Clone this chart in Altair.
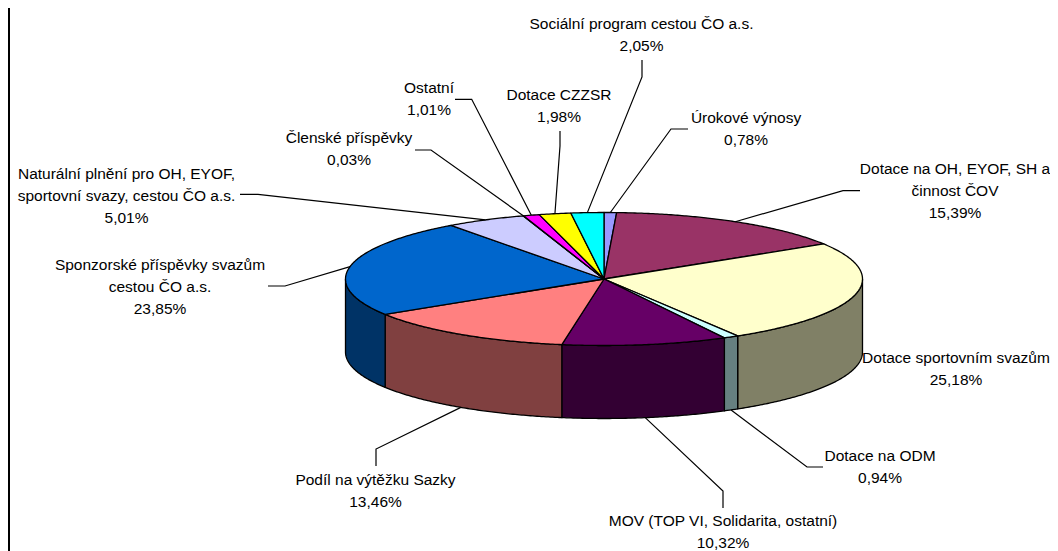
import numpy as np
import pandas as pd
import altair as alt

# --- chart values (clockwise from the top of the pie) ---
names = [
    ["Úrokové výnosy"],
    ["Dotace na OH, EYOF, SH a", "činnost ČOV"],
    ["Dotace sportovním svazům"],
    ["Dotace na ODM"],
    ["MOV (TOP VI, Solidarita, ostatní)"],
    ["Podíl na výtěžku Sazky"],
    ["Sponzorské příspěvky svazům", "cestou ČO a.s."],
    ["Naturální plnění pro OH, EYOF,", "sportovní svazy, cestou ČO a.s."],
    ["Členské příspěvky"],
    ["Ostatní"],
    ["Dotace CZZSR"],
    ["Sociální program cestou ČO a.s."],
]
shares = [0.78, 15.39, 25.18, 0.94, 10.32, 13.46, 23.85, 5.01, 0.03, 1.01, 1.98, 2.05]
top_colors = ["#9999FF", "#993366", "#FFFFCC", "#CCFFFF", "#660066", "#FF8080",
              "#0066CC", "#CCCCFF", "#000080", "#FF00FF", "#FFFF00", "#00FFFF"]
side_colors = ["#4D4D80", "#4D1A33", "#808066", "#668080", "#330033", "#804040",
               "#003366", "#666680", "#000040", "#800080", "#808000", "#008080"]

# --- layout, in picture pixels ---
PLOT_W, PLOT_H, MARGIN = 1042, 543, 8
CX, CY, RX, RY, DEPTH = 604.0, 279.0, 258.5, 66.5, 73.0
label_centre_x = [746, 955, 956, 880, 723, 375.5, 160, 126.5, 349, 429, 559, 641.5]
label_first_y = [118, 169, 358, 455.5, 521, 480, 265, 173.5, 138, 88, 95, 23.5]
LINE_STEP = 22
leader_elbow = [(671, 129), (843, 190.7), None, (807, 467), (723, 491), (376, 449),
                (285, 286), (258, 194.3), (431, 150), (471.7, 99.3), (560, 146), (642, 77)]
leader_end = [(688, 129), (860, 190.7), None, (823, 467), (723, 508), (376, 466),
              (268, 286), (240, 194.3), (415, 150), (455, 99.3), (560, 131), (642, 60)]
FONT, FONT_SIZE = "Liberation Sans", 15.5


def ellipse(deg, drop=0.0):
    a = np.radians(deg)
    return CX + RX * np.sin(a), CY - RY * np.cos(a) + drop


edges = np.concatenate([[0.0], np.cumsum(shares)]) / sum(shares) * 360.0

polys, sides, leaders, labels = [], [], [], []
for i, share in enumerate(shares):
    a0, a1 = edges[i], edges[i + 1]
    # top face of the slice
    arc = np.linspace(a0, a1, max(int((a1 - a0) * 2), 2))
    xs, ys = ellipse(arc)
    px = [CX] + list(xs) + [CX]
    py = [CY] + list(ys) + [CY]
    for s, (x, y) in enumerate(zip(px, py)):
        polys.append(dict(poly=i, seq=s, x=x, y=y, fill=top_colors[i]))
    # visible wall of the slice (front half of the pie)
    v0, v1 = max(a0, 90.0), min(a1, 270.0)
    if v1 > v0:
        arc = np.linspace(v0, v1, max(int((v1 - v0) * 2), 2))
        xs, ys = ellipse(arc)
        xb, yb = ellipse(arc[::-1], DEPTH)
        px = list(xs) + list(xb) + [xs[0]]
        py = list(ys) + list(yb) + [ys[0]]
        for s, (x, y) in enumerate(zip(px, py)):
            sides.append(dict(poly=i, seq=s, x=x, y=y, fill=side_colors[i]))
    # leader line from the middle of the slice's rim
    mid = (a0 + a1) / 2
    if leader_elbow[i] is not None:
        drop = DEPTH if 90 < mid < 270 else 0.0
        ax, ay = ellipse(mid, drop)
        path = [(ax, ay), leader_elbow[i], leader_end[i]]
        for s, (x, y) in enumerate(path):
            leaders.append(dict(poly=i, seq=s, x=x, y=y))
    # label lines
    lines = names[i] + [f"{share:.2f}%".replace(".", ",")]
    for k, t in enumerate(lines):
        labels.append(dict(x=label_centre_x[i], y=label_first_y[i] + k * LINE_STEP, text=t))

x_enc = alt.X("x:Q", axis=None, scale=alt.Scale(domain=[MARGIN, MARGIN + PLOT_W], nice=False, zero=False))
y_enc = alt.Y("y:Q", axis=None, scale=alt.Scale(domain=[MARGIN + PLOT_H, MARGIN], nice=False, zero=False))


def faces(rows):
    return alt.Chart(pd.DataFrame(rows)).mark_line(
        stroke="#000000", strokeWidth=1.3, strokeJoin="round", interpolate="linear"
    ).encode(
        x=x_enc, y=y_enc,
        fill=alt.Fill("fill:N", scale=None),
        detail="poly:N",
        order="seq:Q",
    )


leader_layer = alt.Chart(pd.DataFrame(leaders)).mark_line(
    color="#000000", strokeWidth=1.2
).encode(x=x_enc, y=y_enc, detail="poly:N", order="seq:Q")

label_layer = alt.Chart(pd.DataFrame(labels)).mark_text(
    font=FONT, fontSize=FONT_SIZE, color="#000000", align="center", baseline="middle"
).encode(x=x_enc, y=y_enc, text="text:N")

frame = alt.Chart(pd.DataFrame({"x": [MARGIN + 1]})).mark_rule(
    color="#000000", strokeWidth=2
).encode(x=x_enc)

chart = alt.layer(faces(sides), faces(polys), leader_layer, label_layer, frame).properties(
    width=PLOT_W, height=PLOT_H, padding=0, autosize=alt.AutoSizeParams(type="none")
).configure_view(stroke=None)

chart.save("out.html", embed_options={"renderer": "svg", "actions": False})
